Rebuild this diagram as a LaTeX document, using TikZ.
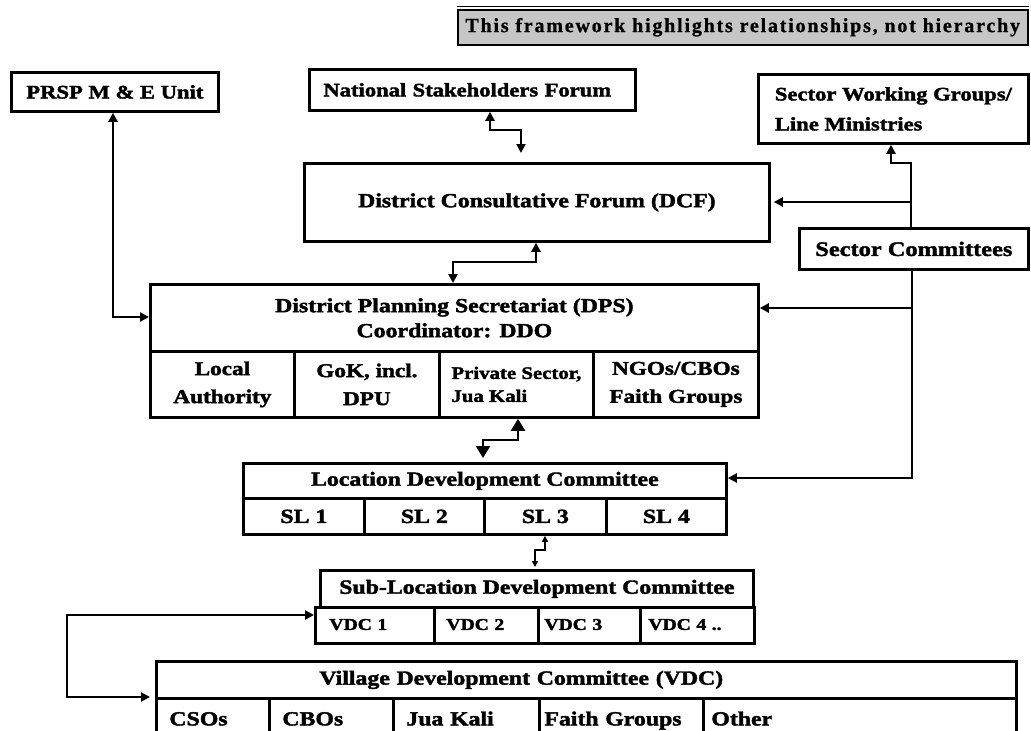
\documentclass[tikz,border=0pt]{standalone}
\usepackage{fontspec}
\setmainfont{Liberation Serif}[FakeStretch=1.19,BoldFeatures={FakeBold=2}]
\newfontfamily\bannerfont{Liberation Serif}[LetterSpace=9,BoldFeatures={FakeBold=1}]
\usetikzlibrary{arrows.meta}
\begin{document}
\begin{tikzpicture}[x=1pt,y=-1pt]
\tikzset{
  box/.style={draw, line width=2.8pt, inner sep=0pt, anchor=north west, align=center,
              font=\bfseries\fontsize{20}{25}\selectfont},
  lcell/.style={box, align=left},
  rowcell/.style={lcell, text height=14pt, text depth=4pt},
  subcell/.style={lcell, minimum height=36pt, text height=12pt, text depth=3pt,
              font=\bfseries\fontsize{16.5}{20}\selectfont},
  conn/.style={line width=2.5pt},
  thinconn/.style={line width=1.6pt},
  Arr/.tip={Triangle[length=9pt,width=9pt]},
  BigArr/.tip={Triangle[length=12pt,width=14pt]},
  SmArr/.tip={Triangle[length=6pt,width=6pt]},
}
\useasboundingbox (0,0) rectangle (1031,731);

% banner
\node[draw, line width=1.5pt, fill=gray!45, anchor=north west, inner sep=0pt,
      minimum width=570pt, minimum height=35pt,
      font=\bannerfont\bfseries\fontsize{20}{22}\selectfont] (banner) at (457,9)
      {This framework highlights relationships, not hierarchy};
\draw[line width=0.8pt] ([yshift=3pt]banner.north west) -- ([yshift=3pt]banner.north east);

% top boxes
\node[box, minimum width=207pt, minimum height=39pt, font=\bfseries\fontsize{19}{24}\selectfont] (prsp) at (10,71) {PRSP M \& E Unit};
\node[box, minimum width=326pt, minimum height=41pt, align=left, text width=298pt, inner xsep=14pt,
      font=\bfseries\fontsize{19}{24}\selectfont] (nsf) at (308,68) {National Stakeholders Forum};
\node[box, align=left, minimum width=270pt, minimum height=69pt,
      font=\bfseries\fontsize{19}{30}\selectfont] (swg) at (757,73) {Sector Working Groups/\\Line Ministries};
\node[box, minimum width=465pt, minimum height=78pt] (dcf) at (303,162) {District Consultative Forum (DCF)};
\node[box, minimum width=229pt, minimum height=41pt, font=\bfseries\fontsize{20.5}{25}\selectfont] (sc) at (798,227) {Sector Committees};

% DPS
\node[box, minimum width=608pt, minimum height=67pt] (dps) at (149,283) {District Planning Secretariat (DPS)\\Coordinator: DDO};
\node[box, minimum width=144pt, minimum height=66pt, font=\bfseries\fontsize{19.5}{28}\selectfont] (dps1) at (149,350) {Local\\Authority};
\node[box, minimum width=145pt, minimum height=66pt, font=\bfseries\fontsize{19.5}{28}\selectfont] (dps2) at (293,350) {GoK, incl.\\DPU};
\node[lcell, minimum width=154pt, minimum height=66pt, font=\bfseries\fontsize{17.5}{23}\selectfont] (dps3) at (438,350) {Private Sector,\\Jua Kali};
\node[box, minimum width=165pt, minimum height=66pt, font=\bfseries\fontsize{19.5}{28}\selectfont] (dps4) at (592,350) {NGOs/CBOs\\Faith Groups};

% LDC
\node[box, minimum width=483pt, minimum height=35pt] (ldc) at (242,462) {Location Development Committee};
\node[box, minimum width=121pt, minimum height=36pt] (ldc1) at (242,497) {SL 1};
\node[box, minimum width=120pt, minimum height=36pt] (ldc2) at (363,497) {SL 2};
\node[box, minimum width=122pt, minimum height=36pt] (ldc3) at (483,497) {SL 3};
\node[box, minimum width=120pt, minimum height=36pt] (ldc4) at (605,497) {SL 4};

% Sub-location
\node[box, minimum width=433pt, minimum height=37pt] (sub) at (319,569) {Sub-Location Development Committee};
\node[subcell, text width=91pt, inner xsep=14pt] (vdc1) at (314,606) {VDC 1};
\node[subcell, text width=80pt, inner xsep=12pt] (vdc2) at (433,606) {VDC 2};
\node[subcell, text width=90pt, inner xsep=6pt] (vdc3) at (537,606) {VDC 3};
\node[subcell, text width=98pt, inner xsep=8pt] (vdc4) at (639,606) {VDC 4 ..};

% VDC
\node[lcell, minimum height=37pt, text width=534pt, inner xsep=163pt] (vdc) at (155,660) {Village Development Committee (VDC)};
\node[rowcell, minimum height=44pt, text width=87pt, inner xsep=13pt] (o1) at (155,697) {CSOs};
\node[rowcell, minimum height=44pt, text width=98pt, inner xsep=13pt] (o2) at (268,697) {CBOs};
\node[rowcell, minimum height=44pt, text width=120pt, inner xsep=13pt] (o3) at (392,697) {Jua Kali};
\node[rowcell, minimum height=44pt, text width=154pt, inner xsep=5pt] (o4) at (538,697) {Faith Groups};
\node[rowcell, minimum height=44pt, text width=297pt, inner xsep=8pt] (o5) at (702,697) {Other};

% connectors
\coordinate (p1) at (113,317);
\draw[conn, Arr-Arr] (prsp.south -| p1) -- (p1) -- (dps.west |- p1);

\coordinate (n1) at (490,130); \coordinate (n2) at (521,130);
\draw[conn, Arr-Arr, shorten >=9pt] (nsf.south -| n1) -- (n1) -- (n2) -- (dcf.north -| n2);

\coordinate (d1) at (536,262); \coordinate (d2) at (453,262);
\draw[conn, Arr-Arr] (dcf.south -| d1) -- (d1) -- (d2) -- (dps.north -| d2);

\coordinate (s1) at (911,163); \coordinate (s2) at (891,163); \coordinate (s3) at (911,202);
\draw[conn, -Arr] (sc.north -| s1) -- (s1) -- (s2) -- (swg.south -| s2);
\draw[conn, -Arr, shorten >=3pt] (s3) -- (dcf.east |- s3);

\coordinate (s4) at (912,478); \coordinate (s5) at (912,308);
\draw[conn, -Arr] (sc.south -| s4) -- (s4) -- (ldc.east |- s4);
\draw[conn, -Arr] (s5) -- (dps.east |- s5);

\coordinate (e1) at (518,440); \coordinate (e2) at (483,440);
\draw[conn, BigArr-BigArr, shorten >=4pt] (dps3.south -| e1) -- (e1) -- (e2) -- (ldc.north -| e2);

\coordinate (f1) at (545,550); \coordinate (f2) at (535,550);
\draw[thinconn, SmArr-SmArr, shorten >=2pt] (ldc3.south -| f1) -- (f1) -- (f2) -- (sub.north -| f2);

\coordinate (g1) at (67,615); \coordinate (g2) at (67,697);
\draw[line width=2.2pt, Arr-Arr, shorten >=5pt] (vdc1.west |- g1) -- (g1) -- (g2) -- (vdc.west |- g2);
\end{tikzpicture}
\end{document}
